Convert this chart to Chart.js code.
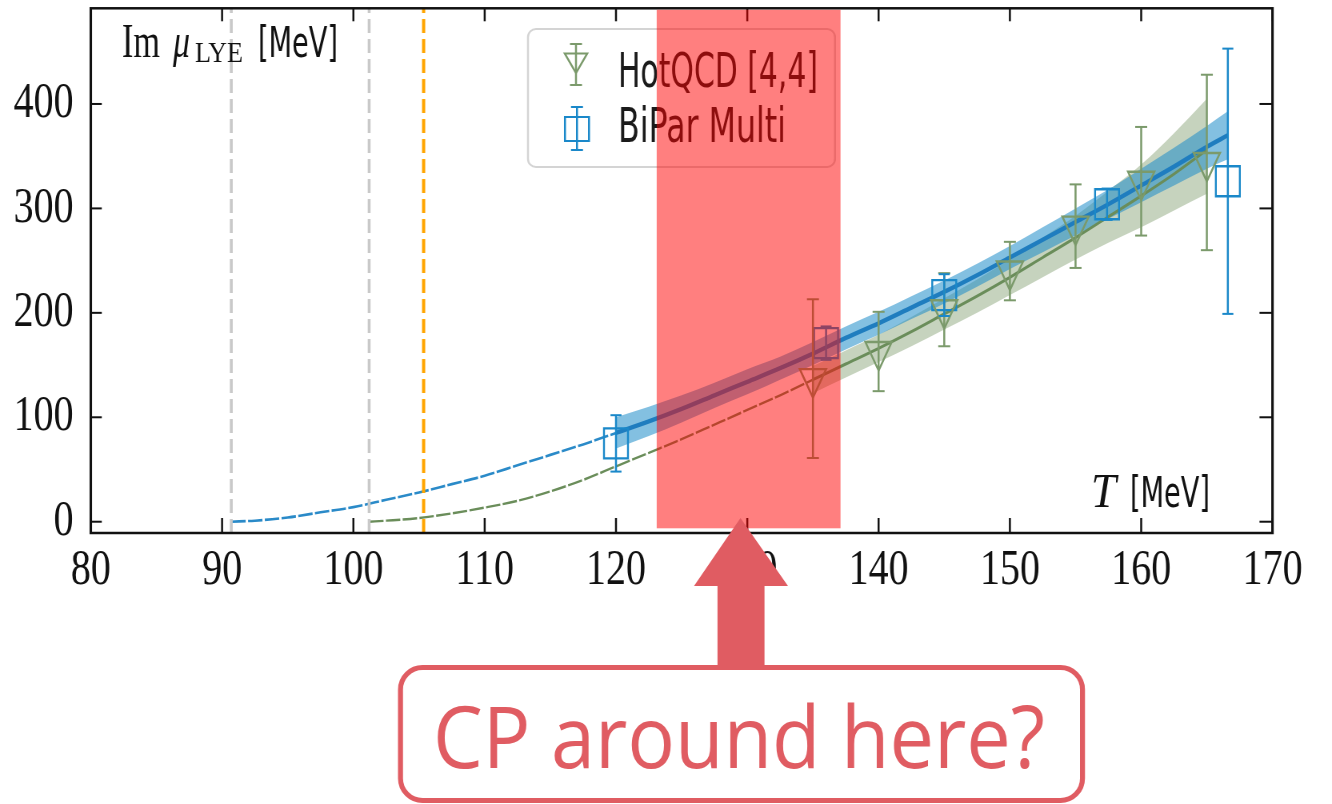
<!DOCTYPE html>
<html>
<head>
<meta charset="utf-8">
<title>Im mu_LYE vs T</title>
<script src="https://cdn.jsdelivr.net/npm/chart.js@4.4.0/dist/chart.umd.min.js"></script>
<style>
  html, body { margin: 0; padding: 0; background: #fff; }
</style>
</head>
<body>
<!-- backing store is wider than the page: the figure is drawn a little narrow -->
<canvas id="plot" width="1665" height="804" style="width:1332px;height:804px"></canvas>
<script>
// axis setup
const xTicks = [80, 90, 100, 110, 120, 130, 140, 150, 160, 170];
const yTicks = [0, 100, 200, 300, 400];
const xRange = [80, 170];
const yRange = [-10.8, 491.6];

// HotQCD [4,4] points
const hotT = [135, 140, 145, 150, 155, 160, 165];
const hotY = [137, 163, 203, 240, 283, 326, 344];
const hotErr = [76, 38, 35, 28, 40, 52, 84];

// BiPar Multi points
const biT = [120, 136, 145, 157.4, 166.6];
const biY = [75, 171, 217, 304, 326];
const biErr = [27, 16, 20, 15, 127];

// BiPar fit: extrapolation below 120 MeV and band above
const blueExtT = [90.7, 92.5, 95, 97.5, 100, 102.5, 105, 107.5, 110, 112.5, 115, 117.5, 120];
const blueExt = [0, 1, 4, 9, 14, 21, 28, 36, 44, 54, 64, 74, 85];
const blueFitT = [120, 122.5, 125, 127.5, 130, 132.5, 135, 137.5, 140, 142.5, 145, 147.5, 150, 152.5, 155, 157.5, 160, 162.5, 165, 166.6];
const blueFit = [85, 96, 108, 121, 134, 147, 161, 176, 190, 205, 220, 236, 253, 270, 287, 304, 322, 340, 359, 370];
const blueHi = [100, 110, 121, 133, 146, 158, 172, 187, 201, 216, 231, 247, 264, 282, 300, 318, 338, 358, 379, 393];
const blueLo = [70, 82, 95, 109, 122, 136, 150, 165, 179, 194, 209, 225, 242, 258, 274, 290, 306, 322, 338, 347];

// HotQCD fit
const greenExtT = [101.2, 102.5, 105, 107.5, 110, 112.5, 115, 117.5, 120, 122.5, 125, 127.5, 130, 132.5, 135];
const greenExt = [0, 1, 3.5, 8, 13.5, 20, 29, 40, 53, 66, 79, 93, 107, 121, 136];
const greenFitT = [135, 137.5, 140, 142.5, 145, 147.5, 150, 152.5, 155, 157.5, 160, 162.5, 165];
const greenFit = [136, 151, 166, 182, 199, 216, 234, 253, 272, 292, 312, 333, 356];
const greenHi = [149, 164, 179, 196, 214, 232, 251, 272, 293, 317, 342, 372, 405];
const greenLo = [123, 138, 153, 168, 184, 200, 217, 234, 251, 267, 282, 298, 314];

// vertical markers
const greyLines = [90.7, 101.2];
const orangeLine = 105.35;

// "CP around here?" window
const cpWindow = [123.1, 137.1];
const cpFloor = -6.3;

const blueMark = '#1a88c9';
const blueLine = '#1f7dbf';
const greenMark = '#7b9a6b';
const greenLine = '#6a8d5a';
const calloutRed = '#e05c62';

const SQ = 1332 / 1665;

const pts = (xs, ys) => xs.map((x, i) => ({x, y: ys[i]}));
const vline = x => [{x, y: yRange[0]}, {x, y: yRange[1]}];

function fitText(ctx, str, x, y, w) {
  const k = w / ctx.measureText(str).width;
  ctx.save();
  ctx.translate(x, y);
  ctx.scale(k, 1);
  ctx.fillText(str, 0, 0);
  ctx.restore();
}

function seg(ctx, x0, y0, x1, y1) {
  ctx.beginPath();
  ctx.moveTo(x0, y0);
  ctx.lineTo(x1, y1);
  ctx.stroke();
}

function errBar(ctx, x, yTop, yBot, cap) {
  seg(ctx, x, yTop, x, yBot);
  seg(ctx, x - cap, yTop, x + cap, yTop);
  seg(ctx, x - cap, yBot, x + cap, yBot);
}

const decor = {
  id: 'decor',
  afterDatasetsDraw(chart) {
    const ctx = chart.ctx, a = chart.chartArea;
    const xs = chart.scales.x, ys = chart.scales.y;
    const px = v => xs.getPixelForValue(v) * SQ;
    const py = v => ys.getPixelForValue(v);
    ctx.save();
    ctx.scale(1 / SQ, 1);

    // error bars
    ctx.lineWidth = 2;
    ctx.strokeStyle = greenMark;
    hotT.forEach((t, i) => errBar(ctx, px(t), py(hotY[i] + hotErr[i]), py(hotY[i] - hotErr[i]), 6));
    ctx.strokeStyle = blueMark;
    biT.forEach((t, i) => errBar(ctx, px(t), py(biY[i] + biErr[i]), py(biY[i] - biErr[i]), 5.5));

    // frame with inward ticks
    const L = a.left * SQ, R = a.right * SQ, T = a.top, B = a.bottom;
    ctx.strokeStyle = '#111';
    ctx.lineWidth = 2.5;
    ctx.strokeRect(L, T, R - L, B - T);
    ctx.lineWidth = 2;
    xTicks.forEach(v => {
      const x = px(v);
      seg(ctx, x, B, x, B - 15);
      seg(ctx, x, T, x, T + 13);
    });
    yTicks.forEach(v => {
      const y = py(v);
      seg(ctx, L, y, L + 11, y);
      seg(ctx, R, y, R - 13, y);
    });

    // axis labels inside the frame
    ctx.fillStyle = '#111';
    ctx.textBaseline = 'alphabetic';
    ctx.textAlign = 'left';
    ctx.font = '48px "Liberation Serif"';
    fitText(ctx, 'Im', 122, 57, 38);
    ctx.font = 'italic 48px "Liberation Serif"';
    fitText(ctx, 'μ', 173, 57, 17);
    ctx.font = '30px "Liberation Serif"';
    fitText(ctx, 'LYE', 195, 62, 48);
    ctx.font = '42px "DejaVu Sans"';
    fitText(ctx, '[MeV]', 258, 57, 80);
    ctx.font = 'italic 48px "Liberation Serif"';
    fitText(ctx, 'T', 1091, 507, 25);
    ctx.font = '42px "DejaVu Sans"';
    fitText(ctx, '[MeV]', 1130, 507, 80);

    // legend
    ctx.beginPath();
    ctx.roundRect(528, 29, 307, 138, 8);
    ctx.fillStyle = 'rgba(255,255,255,0.8)';
    ctx.fill();
    ctx.strokeStyle = '#d4d4d4';
    ctx.lineWidth = 2;
    ctx.stroke();

    const draw = Chart.helpers.drawPoint;
    ctx.fillStyle = 'rgba(0,0,0,0)';
    ctx.strokeStyle = greenMark;
    errBar(ctx, 576, 44, 85, 6);
    draw(ctx, {pointStyle: 'triangle', rotation: 180, radius: 13, borderWidth: 2}, 576, 60);
    ctx.strokeStyle = blueMark;
    ctx.fillStyle = 'rgba(0,0,0,0)';
    errBar(ctx, 577, 107, 150, 6);
    draw(ctx, {pointStyle: 'rect', rotation: 0, radius: 17, borderWidth: 2}, 577, 129);

    ctx.fillStyle = '#1a1a1a';
    ctx.font = '48px "DejaVu Sans"';
    fitText(ctx, chart.data.datasets[0].label, 618, 87, 200);
    fitText(ctx, chart.data.datasets[1].label, 618, 142, 168);
    ctx.restore();
  },
  afterDraw(chart) {
    const ctx = chart.ctx, a = chart.chartArea;
    const xs = chart.scales.x, ys = chart.scales.y;
    const px = v => xs.getPixelForValue(v) * SQ;
    const py = v => ys.getPixelForValue(v);
    ctx.save();
    ctx.scale(1 / SQ, 1);

    // highlighted temperature window
    const x0 = px(cpWindow[0]), x1 = px(cpWindow[1]);
    ctx.fillStyle = 'rgba(255,0,0,0.5)';
    ctx.fillRect(x0, a.top + 1.5, x1 - x0, py(cpFloor) - a.top - 1.5);

    // block arrow
    ctx.fillStyle = calloutRed;
    ctx.beginPath();
    ctx.moveTo(740.5, 518);
    ctx.lineTo(788, 586);
    ctx.lineTo(764.5, 586);
    ctx.lineTo(764.5, 668);
    ctx.lineTo(717.5, 668);
    ctx.lineTo(717.5, 586);
    ctx.lineTo(694, 586);
    ctx.closePath();
    ctx.fill();

    // callout
    ctx.beginPath();
    ctx.roundRect(400.5, 667.5, 682, 133, 22);
    ctx.fillStyle = '#fff';
    ctx.fill();
    ctx.strokeStyle = calloutRed;
    ctx.lineWidth = 5;
    ctx.stroke();
    ctx.fillStyle = calloutRed;
    ctx.font = '86px "Open Sans"';
    ctx.textBaseline = 'alphabetic';
    fitText(ctx, 'CP around here?', 433, 768, 612);
    ctx.restore();
  }
};

const tickFont = {family: '"Liberation Serif"', size: 50, lineHeight: 1};

new Chart(document.getElementById('plot'), {
  type: 'line',
  data: {
    datasets: [
      {
        label: 'HotQCD [4,4]',
        data: pts(hotT, hotY),
        showLine: false,
        pointStyle: 'triangle',
        pointRotation: 180,
        pointRadius: 19,
        pointBorderWidth: 2.4,
        pointBorderColor: greenMark,
        pointBackgroundColor: 'rgba(0,0,0,0)',
        order: 1
      },
      {
        label: 'BiPar Multi',
        data: pts(biT, biY),
        showLine: false,
        pointStyle: 'rect',
        pointRadius: 21.2,
        pointBorderWidth: 2.4,
        pointBorderColor: blueMark,
        pointBackgroundColor: 'rgba(0,0,0,0)',
        order: 1
      },
      {
        label: 'grey T 1',
        data: vline(greyLines[0]),
        borderColor: '#c9c9c9',
        borderWidth: 3.6,
        borderDash: [14, 6],
        order: 2
      },
      {
        label: 'grey T 2',
        data: vline(greyLines[1]),
        borderColor: '#c9c9c9',
        borderWidth: 3.6,
        borderDash: [14, 6],
        order: 2
      },
      {
        label: 'orange T',
        data: vline(orangeLine),
        borderColor: '#ffa500',
        borderWidth: 4,
        borderDash: [14, 6],
        order: 2
      },
      {
        label: 'BiPar fit',
        data: pts(blueFitT, blueFit),
        borderColor: blueLine,
        borderWidth: 4.5,
        cubicInterpolationMode: 'monotone',
        order: 3
      },
      {
        label: 'HotQCD fit',
        data: pts(greenFitT, greenFit),
        borderColor: greenLine,
        borderWidth: 3,
        cubicInterpolationMode: 'monotone',
        order: 4
      },
      {
        label: 'BiPar extrapolation',
        data: pts(blueExtT, blueExt),
        borderColor: '#2a8ac8',
        borderWidth: 2.6,
        borderDash: [18, 3],
        cubicInterpolationMode: 'monotone',
        order: 4
      },
      {
        label: 'HotQCD extrapolation',
        data: pts(greenExtT, greenExt),
        borderColor: greenLine,
        borderWidth: 2.4,
        borderDash: [18, 3],
        cubicInterpolationMode: 'monotone',
        order: 4
      },
      {
        label: 'BiPar band upper',
        data: pts(blueFitT, blueHi),
        borderWidth: 0,
        fill: '+1',
        backgroundColor: 'rgba(30,140,200,0.55)',
        cubicInterpolationMode: 'monotone',
        order: 6
      },
      {
        label: 'BiPar band lower',
        data: pts(blueFitT, blueLo),
        borderWidth: 0,
        cubicInterpolationMode: 'monotone',
        order: 6
      },
      {
        label: 'HotQCD band upper',
        data: pts(greenFitT, greenHi),
        borderWidth: 0,
        fill: '+1',
        backgroundColor: 'rgba(120,150,100,0.42)',
        cubicInterpolationMode: 'monotone',
        order: 7
      },
      {
        label: 'HotQCD band lower',
        data: pts(greenFitT, greenLo),
        borderWidth: 0,
        cubicInterpolationMode: 'monotone',
        order: 7
      }
    ]
  },
  options: {
    responsive: false,
    animation: false,
    devicePixelRatio: 1,
    events: [],
    elements: {point: {radius: 0}},
    layout: {
      autoPadding: false,
      padding: {left: 0, top: 8.3, right: 1665 - 1272.5 / SQ, bottom: 804 - 533 - 60}
    },
    plugins: {legend: {display: false}, tooltip: {enabled: false}},
    scales: {
      x: {
        type: 'linear',
        min: xRange[0],
        max: xRange[1],
        afterBuildTicks: s => { s.ticks = xTicks.map(v => ({value: v})); },
        afterFit: s => { s.height = 60; s.paddingLeft = 0; s.paddingRight = 0; },
        grid: {display: false},
        border: {display: false},
        ticks: {font: tickFont, color: '#111', padding: 5, maxRotation: 0, autoSkip: false}
      },
      y: {
        type: 'linear',
        min: yRange[0],
        max: yRange[1],
        afterBuildTicks: s => { s.ticks = yTicks.map(v => ({value: v})); },
        afterFit: s => { s.width = 90.8 / SQ; s.paddingTop = 0; s.paddingBottom = 0; },
        grid: {display: false},
        border: {display: false},
        ticks: {font: tickFont, color: '#111', padding: 13.5}
      }
    }
  },
  plugins: [decor]
});
</script>
</body>
</html>
